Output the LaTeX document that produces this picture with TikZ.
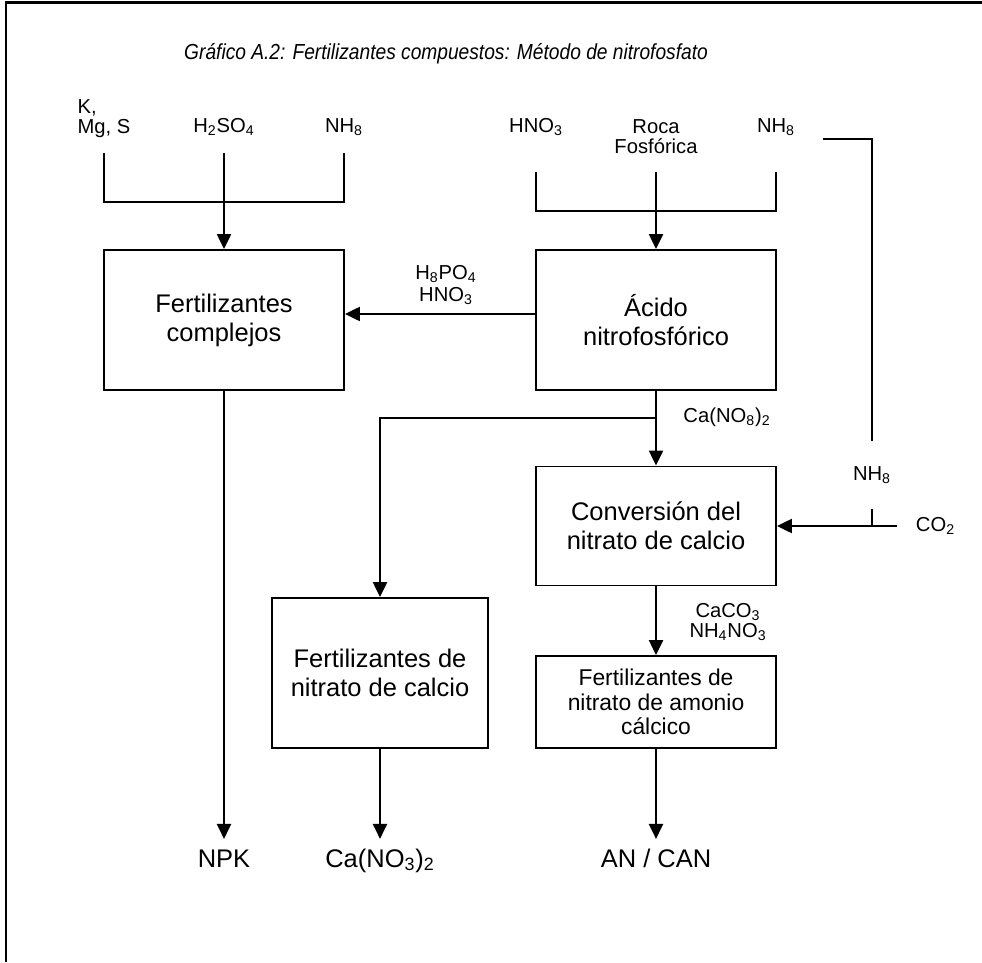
\documentclass[tikz,border=0pt]{standalone}
\usepackage{fontspec}
\setmainfont{Liberation Sans}
\newfontfamily\titlefont[FakeStretch=0.88]{Liberation Sans}
\usetikzlibrary{arrows.meta}

\begin{document}
\begin{tikzpicture}[x=0.02cm, y=-0.02cm, line width=1.1pt,
    box/.style={draw, align=center, font=\fontsize{14.5}{16.5}\selectfont, inner sep=0pt},
    lbl/.style={align=center, font=\fontsize{11.5}{11.5}\selectfont, inner sep=0pt},
    outl/.style={font=\fontsize{14.5}{16}\selectfont, inner xsep=0pt, inner ysep=0.18cm,
      text height=10.4pt, text depth=0pt},
    arr/.style={-{Triangle[length=8.5pt,width=8pt]}}]
  \useasboundingbox (0,0) rectangle (982,962);
  \draw[line width=1.7pt] (6,962) -- (6,3) -- (982,3);
  \node[font=\titlefont\itshape\fontsize{12.4}{13}\selectfont] (title) at (446,54)
    {Gráfico A.2: Fertilizantes compuestos: Método de nitrofosfato};

  % inputs
  \node[lbl, align=left] (kmg) at (104,119) {K,\\Mg, S};
  \node[lbl] (h2so4) at (224,127) {H\textsubscript{2}SO\textsubscript{4}};
  \node[lbl] (nh3a) at (344,127) {NH\textsubscript{8}};
  \node[lbl] (hno3) at (536,127) {HNO\textsubscript{3}};
  \node[lbl] (roca) at (656,137) {Roca\\Fosfórica};
  \node[lbl] (nh3b) at (776,127) {NH\textsubscript{8}};

  % process boxes
  \node[box, minimum width=4.8cm, minimum height=2.8cm] (cplx) at (224,320)
    {Fertilizantes\\complejos};
  \node[box, minimum width=4.8cm, minimum height=2.8cm] (acid) at (656,320)
    {Ácido\\nitrofosfórico};
  \node[box, minimum width=4.8cm, minimum height=2.38cm] (conv) at (656,526)
    {Conversión del\\nitrato de calcio};
  \node[box, minimum width=4.8cm, minimum height=1.84cm,
    font=\fontsize{13}{14}\selectfont] (can) at (656,702)
    {Fertilizantes de\\nitrato de amonio\\cálcico};
  \node[box, minimum width=4.32cm, minimum height=3cm] (cano) at (380,673)
    {Fertilizantes de\\nitrato de calcio};

  % stream labels
  \node[lbl, font=\fontsize{11.5}{12.5}\selectfont] (h3po4) at (446,285)
    {H\textsubscript{8}PO\textsubscript{4}\\HNO\textsubscript{3}};
  \node[lbl] (cano8) at (727,417) {Ca(NO\textsubscript{8})\textsubscript{2}};
  \node[lbl] (caco3) at (728,622) {CaCO\textsubscript{3}\\NH\textsubscript{4}NO\textsubscript{3}};
  \node[lbl, minimum height=1.34cm] (nh3c) at (872,475) {NH\textsubscript{8}};
  \node[lbl, anchor=west, inner xsep=0.36cm] (co2) at (897,526) {CO\textsubscript{2}};

  % products
  \node[outl] (npk) at (224,858) {NPK};
  \node[outl] (cano3) at (380,858) {Ca(NO\textsubscript{3})\textsubscript{2}};
  \node[outl] (ancan) at (656,858) {AN / CAN};

  \coordinate (ltop) at (0,153);
  \coordinate (lbar) at (0,202);
  \coordinate (rtop) at (0,172);
  \coordinate (rbar) at (0,211);
  \coordinate (byp) at (823,139);
  \coordinate (split) at (656,418);
  \coordinate (mix) at (872,526);

  \draw (kmg |- ltop) -- (kmg |- lbar) -- (nh3a |- lbar) -- (nh3a |- ltop);
  \draw[arr] (h2so4 |- ltop) -- (cplx.north);
  \draw (hno3 |- rtop) -- (hno3 |- rbar) -- (nh3b |- rbar) -- (nh3b |- rtop);
  \draw[arr] (roca |- rtop) -- (acid.north);
  \draw[arr] ([yshift=0.12cm]acid.west) -- ([yshift=0.12cm]cplx.east);
  \draw[arr] (acid.south) -- (conv.north);
  \draw[arr] (split) -| (cano.north);
  \draw (byp) -| (nh3c.north);
  \draw (nh3c.south) -- (mix);
  \draw[arr] (co2.west) -- (conv.east);
  \draw[arr] (conv.south) -- (can.north);
  \draw[arr] (cplx.south) -- (npk.north);
  \draw[arr] (cano.south) -- (cano3.north);
  \draw[arr] (can.south) -- (ancan.north);
\end{tikzpicture}
\end{document}
